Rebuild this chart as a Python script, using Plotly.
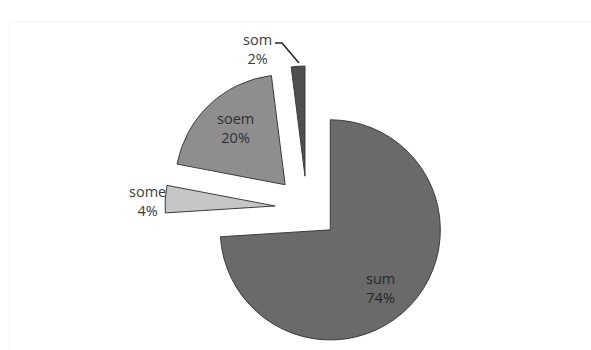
import plotly.graph_objects as go

# Spelling variants and their share of responses
labels = ["sum", "some", "soem", "som"]
shares = [74, 4, 20, 2]
slice_colors = ["#6a6a6a", "#c6c6c6", "#8e8e8e", "#4f4f4f"]

W, H = 591, 350


def px(x, y):
    """Pixel position on the canvas -> paper coordinates."""
    return x / W, 1 - y / H


fig = go.Figure(
    go.Pie(
        labels=labels,
        values=shares,
        sort=False,
        direction="clockwise",
        rotation=0,
        pull=[0.29] * len(shares),
        marker=dict(colors=slice_colors, line=dict(color="#3c3c3c", width=1)),
        textinfo="none",
        domain=dict(x=[(307 - 142) / W, (307 + 142) / W], y=[0, (H - 66) / H]),
        showlegend=False,
        hoverinfo="label+percent",
    )
)

# Category + percentage labels, placed by hand around the exploded pie
label_pos = {"sum": (380, 288), "some": (147, 201), "soem": (235, 128), "som": (257, 49)}
label_color = {"sum": "#262626", "some": "#3a3a3a", "soem": "#2e2e2e", "som": "#3a3a3a"}
total = sum(shares)
for name, (lx, ly) in label_pos.items():
    i = labels.index(name)
    ax, ay = px(lx, ly)
    fig.add_annotation(
        x=ax, y=ay, xref="paper", yref="paper",
        text=f"{labels[i]}<br>{round(100 * shares[i] / total)}%",
        showarrow=False, xanchor="center", yanchor="middle",
        font=dict(family="Open Sans", size=14.5, color=label_color[name]),
    )

# Leader line from the "som" label to its slice
p0, p1, p2 = px(275, 43), px(282, 43), px(299, 63)
fig.add_shape(
    type="path", xref="paper", yref="paper",
    path=f"M {p0[0]},{p0[1]} L {p1[0]},{p1[1]} L {p2[0]},{p2[1]}",
    line=dict(color="#222222", width=1.5),
)

# Faint chart-area frame
f0 = px(9, 22)
fig.add_shape(
    type="rect", xref="paper", yref="paper",
    x0=f0[0], y0=-0.2, x1=1.2, y1=f0[1],
    line=dict(color="#f5f5f5", width=1), layer="below",
)

fig.update_layout(
    width=W, height=H,
    margin=dict(l=0, r=0, t=0, b=0),
    paper_bgcolor="white",
    plot_bgcolor="white",
)

fig.write_html("out.html")
